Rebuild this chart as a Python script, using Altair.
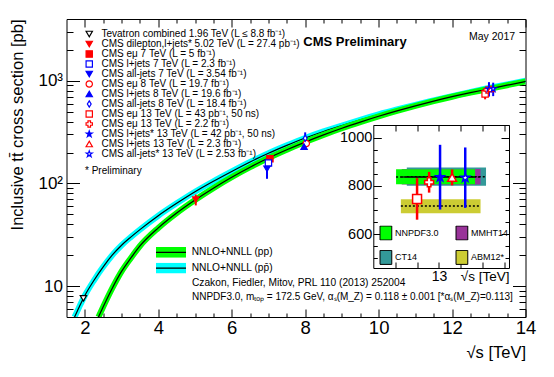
import altair as alt
import pandas as pd

FONT = "Liberation Sans"

# ---------------- theory curves (NNLO+NNLL) ----------------
pp_sqrts = [2.37, 2.5, 2.75, 3.0, 3.25, 3.5, 4.0, 4.5, 5.0, 5.5, 6.0, 6.5, 7.0, 7.5,
            8.0, 8.5, 9.0, 9.5, 10.0, 10.5, 11.0, 11.5, 12.0, 12.5, 13.0, 13.5, 14.0]
pp_sigma = [5.0, 6.3, 9.6, 13.9, 18.7, 24.6, 36.9, 51.5, 69, 90, 115, 144, 177, 213,
            253, 297, 345, 396, 451, 509, 570, 634, 700, 766, 832, 906, 984]
ppbar_sqrts = [1.72, 1.85, 2.0, 2.25, 2.5, 2.75, 3.0, 3.25, 3.5, 4.0, 4.5, 5.0, 5.5, 6.0,
               6.5, 7.0, 7.5, 8.0, 8.5, 9.0, 9.5, 10.0, 10.5, 11.0, 11.5, 12.0, 12.5,
               13.0, 13.5, 14.0]
ppbar_sigma = [5.0, 6.3, 8.1, 11.4, 15.4, 20.1, 25.0, 30.0, 35.5, 48.5, 64, 83, 105,
               131, 162, 197, 235, 277, 321, 367, 417, 470, 525, 583, 644, 710, 778,
               850, 923, 1000]
curve_names = ["NNLO+NNLL (pp)", "NNLO+NNLL (pp\u0304)"]
curve_colors = ["#00ff00", "#00ffff"]

# ---------------- measurements ----------------
exp_labels = [
    "Tevatron combined 1.96 TeV (L \u2264 8.8 fb\u207b\u00b9)",
    "CMS dilepton,l+jets* 5.02 TeV (L = 27.4 pb\u207b\u00b9)",
    "CMS e\u03bc 7 TeV (L = 5 fb\u207b\u00b9)",
    "CMS l+jets 7 TeV (L = 2.3 fb\u207b\u00b9)",
    "CMS all-jets 7 TeV (L = 3.54 fb\u207b\u00b9)",
    "CMS e\u03bc 8 TeV (L = 19.7 fb\u207b\u00b9)",
    "CMS l+jets 8 TeV (L = 19.6 fb\u207b\u00b9)",
    "CMS all-jets 8 TeV (L = 18.4 fb\u207b\u00b9)",
    "CMS e\u03bc 13 TeV (L = 43 pb\u207b\u00b9, 50 ns)",
    "CMS e\u03bc 13 TeV (L = 2.2 fb\u207b\u00b9)",
    "CMS l+jets* 13 TeV (L = 42 pb\u207b\u00b9, 50 ns)",
    "CMS l+jets 13 TeV (L = 2.3 fb\u207b\u00b9)",
    "CMS all-jets* 13 TeV (L = 2.53 fb\u207b\u00b9)",
]
exp_sqrts = [1.96, 5.02, 7.04, 7.0, 6.96, 8.03, 7.97, 8.0, 12.9, 12.955, 13.005, 13.06, 13.12]
exp_sigma = [7.60, 69.5, 173.6, 158.1, 139, 244.9, 228.5, 275.6, 746, 815, 836, 835, 834]
exp_err = [0.41, 8.4, 6.4, 11.5, 28, 9.0, 15.0, 39, 86, 43, 134, 33, 125]

STAR = ("M0,-1L0.2245,-0.309L0.9511,-0.309L0.3633,0.118L0.5878,0.809L0,0.382"
        "L-0.5878,0.809L-0.3633,0.118L-0.9511,-0.309L-0.2245,-0.309Z")
DIAMOND = "M0,-1L0.6,0L0,1L-0.6,0Z"
exp_shapes = ["triangle-down", "triangle-down", "square", "square", "triangle-down",
              "circle", "triangle-up", DIAMOND, "square", "cross", STAR, "triangle-up", STAR]
exp_fills = ["white", "#ff0000", "#ff0000", "white", "#0000ff", "white", "#0000ff",
             "white", "white", "white", "#0000ff", "white", "white"]
exp_strokes = ["black", "#ff0000", "#ff0000", "#0000ff", "#0000ff", "#ff0000", "#0000ff",
               "#0000ff", "#ff0000", "#ff0000", "#0000ff", "#ff0000", "#0000ff"]

# ---------------- inset: PDF predictions at 13 TeV ----------------
pdf_names = ["CT14", "MMHT14", "NNPDF3.0", "ABM12*"]      # drawing order
pdf_x0 = [12.853, 12.83, 12.804, 12.826]
pdf_x1 = [13.215, 13.19, 13.165, 13.19]
pdf_lo = [801, 806, 807, 687]
pdf_hi = [876, 870, 869, 745]
pdf_mid = [838, 837, 837, 717]
pdf_legend_order = ["NNPDF3.0", "CT14", "MMHT14", "ABM12*"]
pdf_legend_colors = ["#00ff00", "#339999", "#993399", "#cccc33"]

# ---------------- layout constants ----------------
W, H = 459, 298
IN_L, IN_R, IN_T, IN_B = 306.8, 442.5, 106, 249

RECT = "M-1,-0.357H1V0.357H-1Z"
LINE = "M-1,0H1"
BOX = "M-0.84,-1H0.84V1H-0.84Z"

# ---------------- data frames ----------------
pp_df = pd.DataFrame({"x": pp_sqrts, "y": pp_sigma})
ppbar_df = pd.DataFrame({"x": ppbar_sqrts, "y": ppbar_sigma})
pts = pd.DataFrame({"exp": exp_labels, "x": exp_sqrts, "y": exp_sigma, "e": exp_err,
                    "shp": exp_shapes, "fc": exp_fills, "sc": exp_strokes})
pts["lo"] = pts["y"] - pts["e"]
pts["hi"] = pts["y"] + pts["e"]
pts_in = pts[pts["x"] > 12].copy()
pdf_df = pd.DataFrame({"pdf": pdf_names, "x0": pdf_x0, "x1": pdf_x1,
                       "lo": pdf_lo, "hi": pdf_hi, "mid": pdf_mid})
leg_df = pd.DataFrame({"curve": curve_names, "k": ["a", "b"]})

X_MAIN = alt.Scale(domain=[1.5, 14], nice=False, zero=False)
Y_MAIN = alt.Scale(type="log", domain=[5, 4000], nice=False)
X_IN = alt.Scale(domain=[12.7, 13.32], range=[IN_L, IN_R], nice=False, zero=False)
Y_IN = alt.Scale(domain=[460, 1052], range=[IN_B, IN_T], nice=False, zero=False)


def tick_axis(orient, offset, values, size, domain=False):
    return alt.Axis(orient=orient, offset=offset, values=values, tickSize=size,
                    ticks=True, labels=False, domain=domain, grid=False, title=None,
                    tickColor="black", domainColor="black")


def axis_layer(corners, xsc, ysc, xaxis, yaxis):
    return alt.Chart(corners).mark_point(opacity=0).encode(
        x=alt.X("x:Q", scale=xsc, axis=xaxis),
        y=alt.Y("y:Q", scale=ysc, axis=yaxis))


# ---------------- main axes ----------------
x_major = [2, 4, 6, 8, 10, 12, 14]
x_minor = [2.5, 3, 3.5, 4.5, 5, 5.5, 6.5, 7, 7.5, 8.5, 9, 9.5, 10.5, 11, 11.5, 12.5, 13, 13.5]
y_major = [10, 100, 1000]
y_minor = [5, 6, 7, 8, 9, 20, 30, 40, 50, 60, 70, 80, 90,
           200, 300, 400, 500, 600, 700, 800, 900, 2000, 3000, 4000]

x_label_axis = alt.Axis(orient="bottom", values=x_major, ticks=False, tickSize=0,
                        labels=True, labelFontSize=18.5, labelPadding=1, labelFlush=False,
                        domain=True, grid=False, format="d",
                        title="\u221as [TeV]", titleFontSize=16.5, titleX=W, titleY=35,
                        titleAlign="right", titleBaseline="middle", titleFontWeight="normal")
y_label_axis = alt.Axis(orient="left", values=y_major, ticks=False, tickSize=0,
                        labels=True, labelFontSize=17, labelPadding=4, labelFlush=False,
                        labelExpr="datum.value == 10 ? '10' : (datum.value == 100 ? '10\u00b2' : '10\u00b3')",
                        domain=True, grid=False,
                        title="Inclusive tt\u0304 cross section [pb]", titleFontSize=16.5,
                        titleAngle=-90, titleX=-49.5, titleY=0, titleAlign="right",
                        titleBaseline="middle", titleFontWeight="normal")

main_corners = pd.DataFrame({"x": [1.5, 14], "y": [5, 4000]})
main_axes = [
    axis_layer(main_corners, X_MAIN, Y_MAIN, x_label_axis, y_label_axis),
    axis_layer(main_corners, X_MAIN, Y_MAIN, tick_axis("top", -H, x_major, 8),
               tick_axis("right", -W, y_major, 13)),
    axis_layer(main_corners, X_MAIN, Y_MAIN, tick_axis("top", -H, x_minor, 4),
               tick_axis("right", -W, y_minor, 6.5)),
    axis_layer(main_corners, X_MAIN, Y_MAIN, tick_axis("bottom", -H, x_major, 8, True),
               tick_axis("left", -W, y_major, 13, True)),
    axis_layer(main_corners, X_MAIN, Y_MAIN, tick_axis("bottom", -H, x_minor, 4),
               tick_axis("left", -W, y_minor, 6.5)),
]


def curve(df, col):
    enc = dict(x=alt.X("x:Q", scale=X_MAIN, axis=None), y=alt.Y("y:Q", scale=Y_MAIN, axis=None))
    band = alt.Chart(df).mark_line(strokeWidth=6, color=col, clip=True,
                                   interpolate="monotone").encode(**enc)
    core = alt.Chart(df).mark_line(strokeWidth=1.2, color="black", clip=True,
                                   interpolate="monotone").encode(**enc)
    return [band, core]


theory_fill_legend = alt.Chart(leg_df).transform_filter("false").mark_point(
    filled=True, shape=RECT, opacity=1).encode(
    color=alt.Color("curve:N", scale=alt.Scale(domain=curve_names, range=curve_colors),
                    legend=alt.Legend(
        title=None, orient="none", legendX=89.5, legendY=228, symbolType=RECT,
        symbolSize=900, symbolStrokeWidth=0, clipHeight=10.7, labelFontSize=10.2,
        labelOffset=5.7, rowPadding=4.7, padding=0, labelLimit=400, labelFont=FONT,
        labelColor="black", zindex=1)))

theory_line_legend = alt.Chart(leg_df).transform_filter("false").mark_point(
    filled=False, shape=LINE, color="black", opacity=1).encode(
    strokeDash=alt.StrokeDash("k:N", scale=alt.Scale(domain=["a", "b"], range=[[1, 0], [1, 0]]),
                              legend=alt.Legend(
        title=None, orient="none", legendX=88.5, legendY=228, symbolType=LINE,
        symbolSize=900, symbolStrokeColor="black", symbolStrokeWidth=1.2,
        clipHeight=10.7, labelFontSize=10.2, labelExpr="''", rowPadding=4.7, padding=0,
        zindex=3)))

POINT_LEGEND = alt.Legend(title=None, orient="none", legendX=17.75, legendY=10.25,
                          symbolSize=40, symbolStrokeWidth=1.2, labelFontSize=10,
                          clipHeight=9.5, labelOffset=7.25, rowPadding=-1.5, padding=0,
                          labelLimit=400, labelFont=FONT, labelColor="black")

err_main = alt.Chart(pts).mark_rule(strokeWidth=2).encode(
    x=alt.X("x:Q", scale=X_MAIN, axis=None),
    y=alt.Y("lo:Q", scale=Y_MAIN, axis=None), y2="hi:Q",
    stroke=alt.Stroke("sc:N", scale=None))

pts_main = alt.Chart(pts).mark_point(size=40, strokeWidth=1.2, opacity=1).encode(
    x=alt.X("x:Q", scale=X_MAIN, axis=None),
    y=alt.Y("y:Q", scale=Y_MAIN, axis=None),
    shape=alt.Shape("exp:N", scale=alt.Scale(domain=exp_labels, range=exp_shapes),
                    legend=POINT_LEGEND),
    fill=alt.Fill("exp:N", scale=alt.Scale(domain=exp_labels, range=exp_fills),
                  legend=POINT_LEGEND),
    stroke=alt.Stroke("exp:N", scale=alt.Scale(domain=exp_labels, range=exp_strokes),
                      legend=POINT_LEGEND))


def label(text, x, y, size=10, weight="normal"):
    return alt.Chart(pd.DataFrame({"t": [text]})).mark_text(
        align="left", baseline="middle", font=FONT, fontSize=size, fontWeight=weight,
        color="black").encode(text="t:N", x=alt.value(x), y=alt.value(y))


texts = [
    label("CMS Preliminary", 236.8, 22.5, 13, "bold"),
    label("May 2017", 402.5, 17.5, 10.5),
    label("* Preliminary", 18.5, 151.7, 10),
    label("Czakon, Fiedler, Mitov, PRL 110 (2013) 252004", 125.5, 263.7, 10.2),
    label("NNPDF3.0, m\u209c\u2092\u209a = 172.5 GeV, \u03b1\u209b(M_Z) = 0.118 \u00b1 0.001 "
          "[*\u03b1\u209b(M_Z)=0.113]", 125.5, 278, 10),
]

main = alt.layer(
    *main_axes,
    *curve(ppbar_df, curve_colors[1]),
    *curve(pp_df, curve_colors[0]),
    theory_fill_legend, theory_line_legend,
    err_main, pts_main, *texts,
).resolve_axis(x="independent", y="independent")

# ---------------- inset ----------------
in_x_ticks = [12.8, 12.9, 13.0, 13.1, 13.2, 13.3]
in_y_major = [600, 800, 1000]
in_y_minor = [500, 550, 650, 700, 750, 850, 900, 950, 1050]

in_x_label = alt.Axis(orient="bottom", offset=-(H - IN_B), values=[13], ticks=False, tickSize=0,
                      labels=True, labelFontSize=14, labelPadding=1.7, labelFlush=False,
                      domain=True, grid=False, format="d",
                      title="\u221as [TeV]", titleFontSize=13.5, titleX=IN_R, titleY=8.7,
                      titleAlign="right", titleBaseline="middle", titleFontWeight="normal")
in_y_label = alt.Axis(orient="left", offset=-IN_L, values=in_y_major, ticks=False, tickSize=0,
                      labels=True, labelFontSize=14.5, labelPadding=1.5, labelFlush=False,
                      domain=True, grid=False, title=None, format="d")

in_corners = pd.DataFrame({"x": [12.7, 13.32], "y": [460, 1052]})
inset_axes = [
    axis_layer(in_corners, X_IN, Y_IN, in_x_label, in_y_label),
    axis_layer(in_corners, X_IN, Y_IN, tick_axis("top", -IN_B, in_x_ticks, 6),
               tick_axis("right", -(W - IN_L), in_y_major, 8)),
    axis_layer(in_corners, X_IN, Y_IN, tick_axis("bottom", IN_T - H, in_x_ticks, 6, True),
               tick_axis("right", -(W - IN_L), in_y_minor, 4)),
    axis_layer(in_corners, X_IN, Y_IN, None, tick_axis("left", -IN_R, in_y_major, 8, True)),
    axis_layer(in_corners, X_IN, Y_IN, None, tick_axis("left", -IN_R, in_y_minor, 4)),
]

bands = alt.Chart(pdf_df).mark_rect().encode(
    x=alt.X("x0:Q", scale=X_IN, axis=None), x2="x1:Q",
    y=alt.Y("lo:Q", scale=Y_IN, axis=None), y2="hi:Q",
    color=alt.Color("pdf:N", scale=alt.Scale(domain=pdf_legend_order, range=pdf_legend_colors),
                    legend=alt.Legend(title=None, orient="none", legendX=311.9, legendY=206.5,
                                      columns=2, columnPadding=15, rowPadding=9.4,
                                      clipHeight=15, symbolType=BOX, symbolSize=196,
                                      symbolStrokeColor="black", symbolStrokeWidth=1,
                                      labelFontSize=9, labelOffset=1.6, padding=0,
                                      labelLimit=200, labelFont=FONT, labelColor="black")))

dots = alt.Chart(pdf_df).mark_rule(strokeDash=[2, 2], strokeWidth=1.5, color="black").encode(
    x=alt.X("x0:Q", scale=X_IN, axis=None), x2="x1:Q",
    y=alt.Y("mid:Q", scale=Y_IN, axis=None))

err_in = alt.Chart(pts_in).mark_rule(strokeWidth=2.5).encode(
    x=alt.X("x:Q", scale=X_IN, axis=None),
    y=alt.Y("lo:Q", scale=Y_IN, axis=None), y2="hi:Q",
    stroke=alt.Stroke("sc:N", scale=None))

pts_inset = alt.Chart(pts_in).mark_point(size=80, strokeWidth=1.5, opacity=1).encode(
    x=alt.X("x:Q", scale=X_IN, axis=None),
    y=alt.Y("y:Q", scale=Y_IN, axis=None),
    shape=alt.Shape("shp:N", scale=None),
    fill=alt.Fill("fc:N", scale=None),
    stroke=alt.Stroke("sc:N", scale=None))

inset = alt.layer(*inset_axes, bands, dots, err_in, pts_inset).resolve_axis(
    x="independent", y="independent")

chart = alt.layer(main, inset).resolve_scale(
    x="independent", y="independent", color="independent"
).resolve_axis(x="independent", y="independent").properties(
    width=W, height=H,
    padding={"left": 58.5, "top": 11, "right": 20, "bottom": 50},
    autosize=alt.AutoSizeParams(type="none"),
).configure_view(stroke=None).configure_axis(
    labelFont=FONT, titleFont=FONT, labelColor="black", titleColor="black",
    tickColor="black", domainColor="black", grid=False
).configure_legend(labelFont=FONT, labelColor="black")

chart.save("out.html", embed_options={"renderer": "svg", "actions": False})
